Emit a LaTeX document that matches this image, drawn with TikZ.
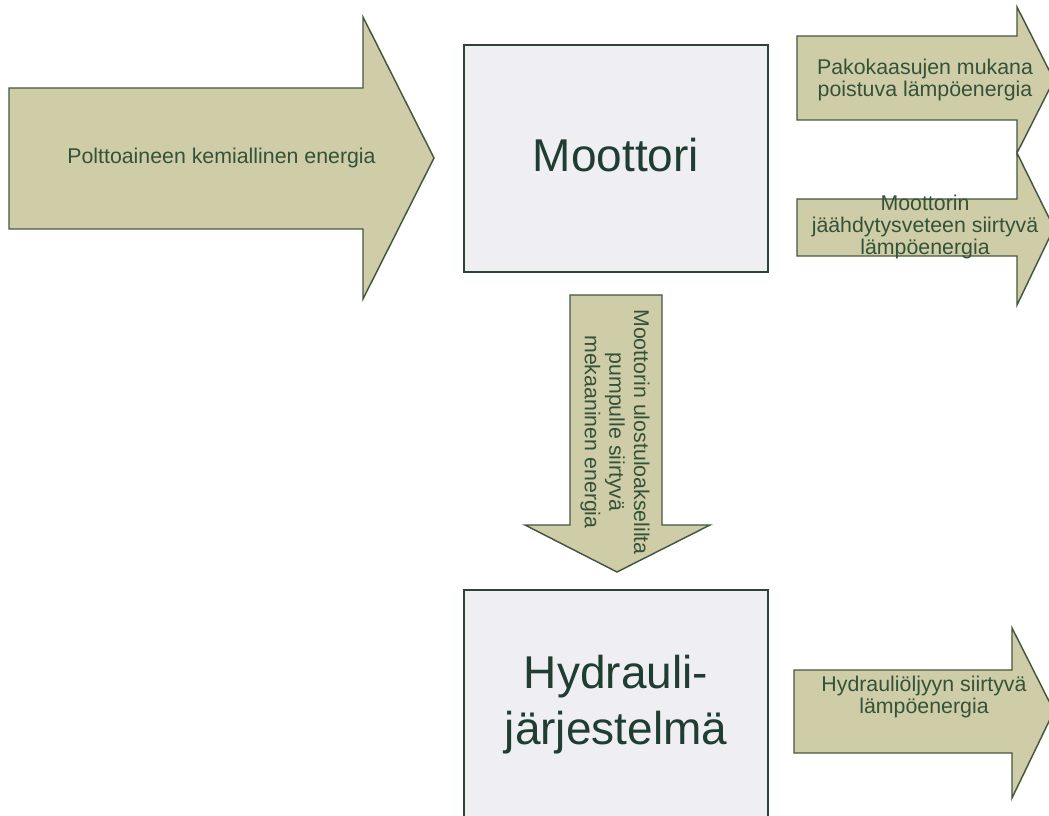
\documentclass[tikz,border=0pt]{standalone}
\usepackage{fontspec}
\setmainfont{Liberation Sans}
\definecolor{arrfill}{HTML}{CFCDA7}
\definecolor{arrline}{HTML}{44583F}
\definecolor{boxfill}{HTML}{EFEEF3}
\definecolor{boxline}{HTML}{2E4236}
\definecolor{txt}{HTML}{34523A}
\definecolor{bigtxt}{HTML}{1F3D30}
\begin{document}
\begin{tikzpicture}[x=0.75pt,y=-0.75pt,
  arrowshape/.style={fill=arrfill,draw=arrline,line width=1.1pt,line join=miter},
  blockbox/.style={fill=boxfill,draw=boxline,line width=2.2pt},
  smalltxt/.style={text=txt,font=\fontsize{16}{16.5}\selectfont,align=center,inner sep=0pt},
  bigtext/.style={text=bigtxt,font=\fontsize{34.5}{42}\selectfont,align=center,inner sep=0pt}]
\useasboundingbox (0,0) rectangle (1049,816);
\clip (0,0) rectangle (1049,816);
% input arrow
\draw[arrowshape] (9,88) -- (363,88) -- (363,17) -- (434,158) -- (363,299) -- (363,229) -- (9,229) -- cycle;
\node[smalltxt] (fuel) at (221.5,158) {Polttoaineen kemiallinen energia};
% engine box
\draw[blockbox] (464,45) rectangle (768,272);
\node[bigtext] (moottori) at (616,155) {Moottori};
% exhaust arrow
\draw[arrowshape] (797,36) -- (1017,36) -- (1017,7) -- (1054,80) -- (1017,153) -- (1017,120) -- (797,120) -- cycle;
\node[smalltxt] (exhaust) at (925,80) {Pakokaasujen mukana\\poistuva lämpöenergia};
% cooling arrow
\draw[arrowshape] (797,199) -- (1017,199) -- (1017,153) -- (1054,228) -- (1017,305) -- (1017,256) -- (797,256) -- cycle;
\node[smalltxt] (cooling) at (925,227) {Moottorin\\jäähdytysveteen siirtyvä\\lämpöenergia};
% mechanical energy arrow
\draw[arrowshape] (570,295) -- (662,295) -- (662,525) -- (710,525) -- (617,572) -- (525,525) -- (570,525) -- cycle;
\node[smalltxt,rotate=-90,font=\fontsize{16}{18.5}\selectfont] (mech) at (615,432) {Moottorin ulostuloakselilta\\pumpulle siirtyvä\\mekaaninen energia};
% hydraulic box
\draw[blockbox] (464,590) rectangle (768,840);
\node[bigtext] (hydr) at (616,705) {Hydrauli-\\järjestelmä};
% hydraulic oil arrow
\draw[arrowshape] (794,670) -- (1012,670) -- (1012,628) -- (1054,711) -- (1012,798) -- (1012,753) -- (794,753) -- cycle;
\node[smalltxt] (oil) at (924,697) {Hydrauliöljyyn siirtyvä\\lämpöenergia};
\end{tikzpicture}
\end{document}
